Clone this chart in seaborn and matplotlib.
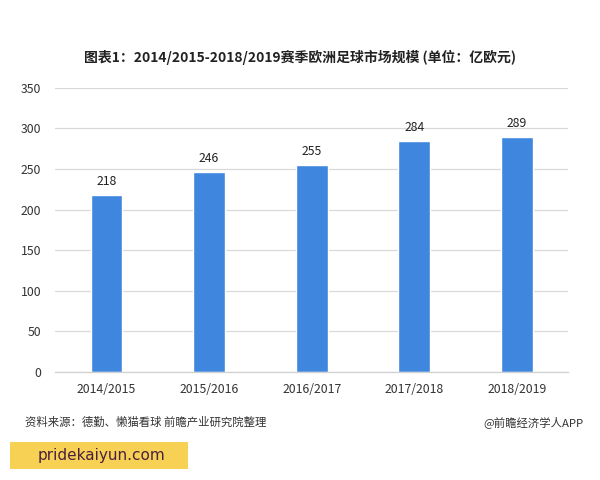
import matplotlib
matplotlib.use("Agg")
import matplotlib.pyplot as plt
import seaborn as sns
import pandas as pd
from matplotlib.patches import Rectangle

seasons = ["2014/2015", "2015/2016", "2016/2017", "2017/2018", "2018/2019"]
values = [218, 246, 255, 284, 289]
yticks = [0, 50, 100, 150, 200, 250, 300, 350]

title = "图表1：2014/2015-2018/2019赛季欧洲足球市场规模 (单位：亿欧元)"
source = "资料来源：德勤、懒猫看球 前瞻产业研究院整理"
credit = "@前瞻经济学人APP"
banner = "pridekaiyun.com"

sns.set_theme(style="white")
plt.rcParams['font.family'] = ['Noto Sans CJK SC', 'DejaVu Sans']

df = pd.DataFrame({"season": seasons, "value": values})

fig = plt.figure(figsize=(6, 4.8), dpi=100)
ax = fig.add_axes([0.092, 0.225, 0.855, 0.592])
sns.barplot(data=df, x="season", y="value", color="#3e86de", width=0.31,
            saturation=1, ax=ax)

ax.set_ylim(0, 350)
ax.set_yticks(yticks)
ax.yaxis.grid(True, color="#d9d9d9", linewidth=0.9)
ax.set_axisbelow(True)
for s in ["top", "right", "left"]:
    ax.spines[s].set_visible(False)
ax.spines["bottom"].set_color("#d0d0d0")
ax.spines["bottom"].set_linewidth(0.9)
ax.set_xlabel("")
ax.set_ylabel("")
ax.tick_params(axis="both", length=0, labelsize=8.8, colors="#333333")
ax.tick_params(axis="x", pad=8)
ax.tick_params(axis="y", pad=10)

for c in ax.containers:
    ax.bar_label(c, labels=[str(v) for v in values], padding=5, fontsize=8.8, color="#222222")

fig.text(0.5, 0.88, title, ha="center", va="center", fontsize=10, fontweight="bold", color="#222222")
fig.text(0.042, 0.12, source, ha="left", va="center", fontsize=8.2, color="#333333")
fig.text(0.972, 0.12, credit, ha="right", va="center", fontsize=8.2, color="#333333")

fig.patches.append(Rectangle((0.017, 0.022), 0.297, 0.058, transform=fig.transFigure,
                             facecolor="#f7d154", edgecolor="none"))
fig.text(0.063, 0.051, banner, ha="left", va="center", fontsize=11, color="#4a2040",
         family=["DejaVu Sans"])

fig.savefig("out.png", dpi=100, facecolor="white")
